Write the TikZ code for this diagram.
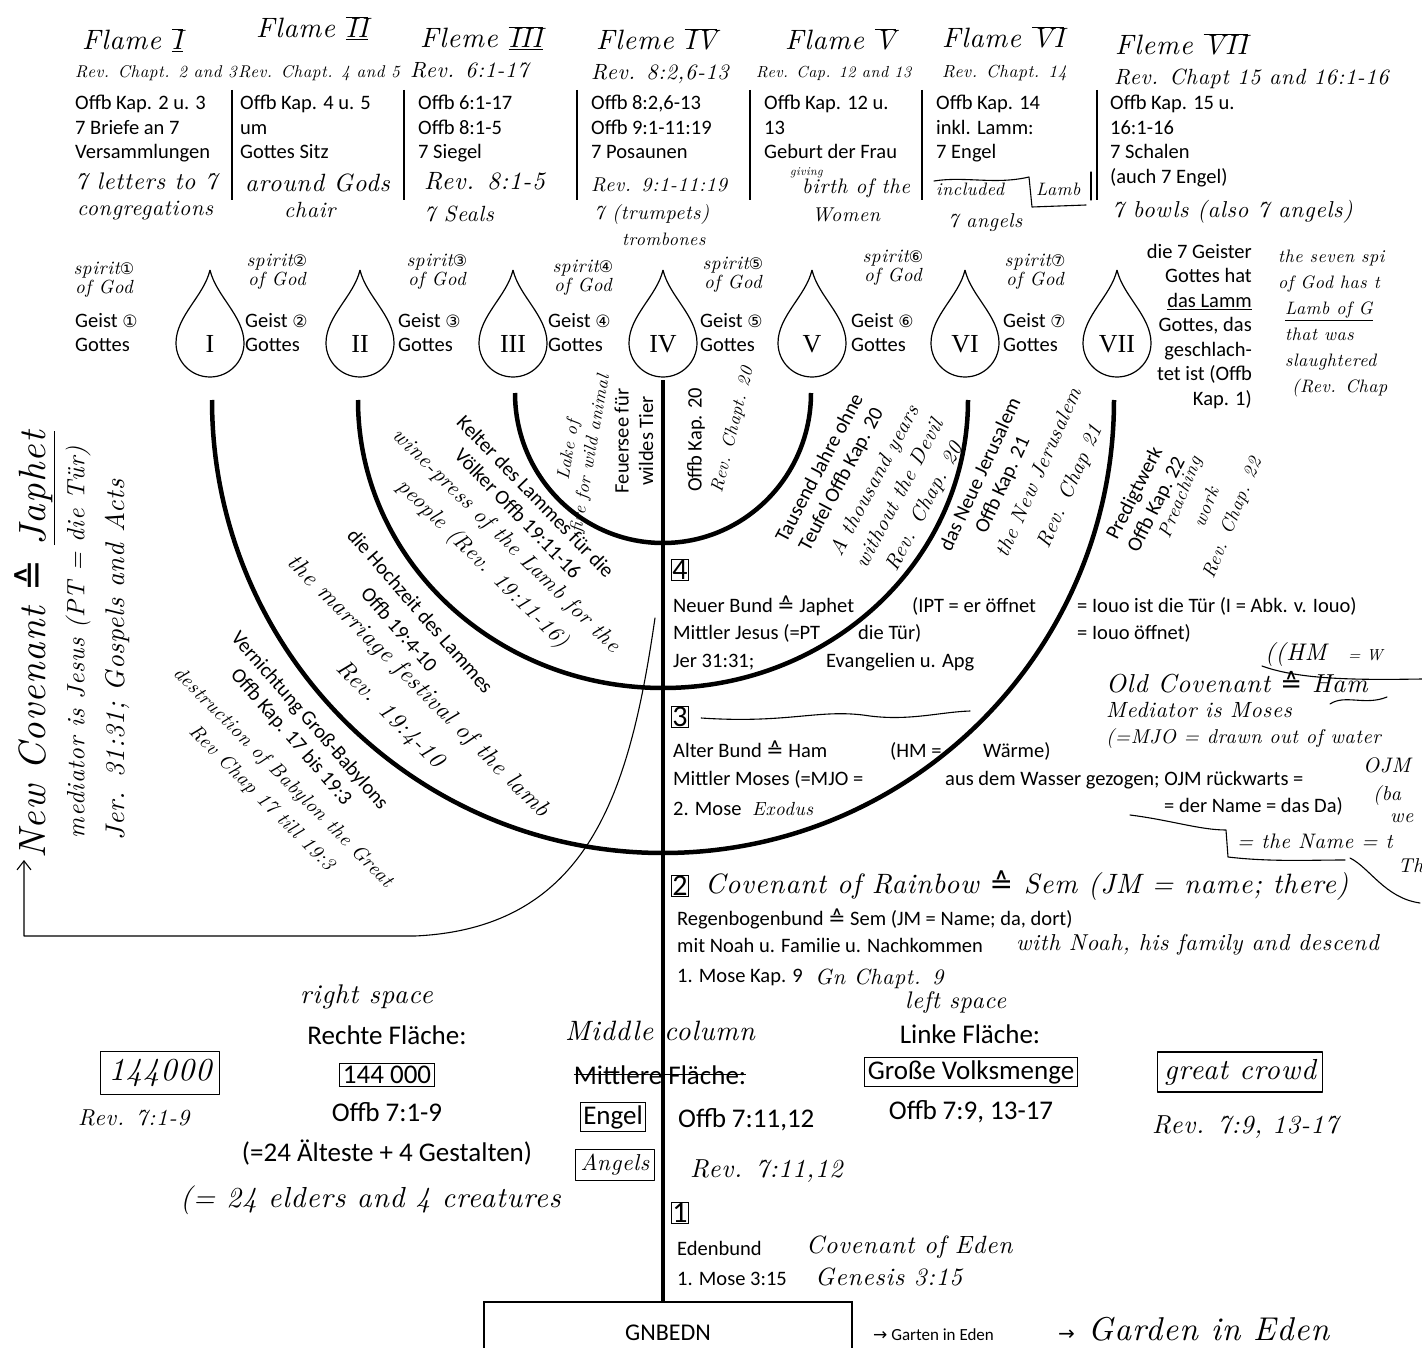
\documentclass[tikz,border=0pt]{standalone}
\usepackage{fontspec}
\usetikzlibrary{arrows.meta}
\newfontfamily\calib{Carlito}
\newfontfamily\dejavu{DejaVu Sans}
\newfontfamily\serifrn{Liberation Serif}
\newfontfamily\handf[LetterSpace=3]{lmroman10-italic.otf}
\newcommand\pf{\calib\fontsize{20.5}{24.5}\selectfont}
\newcommand\pbig{\calib\fontsize{27}{32}\selectfont}
\newcommand\hw[2]{\handf\fontsize{#1}{#2}\selectfont}
\newcommand\cor{{\dejavu ≙}}
\newcommand\rn[1]{$\overline{\mbox{#1}}$}
\newcommand\rnn[1]{$\overline{\underline{\mbox{#1}}}$}

\begin{document}
\begin{tikzpicture}[x=1pt, y=1pt,
  prt/.style={font=\pf, inner sep=0pt, anchor=base west},
  big/.style={font=\pbig, inner sep=0pt, anchor=base},
  hw/.style={font=\hw{18}{23}, inner sep=0pt, anchor=base west},
  numbox/.style={draw, line width=1pt, font=\calib\fontsize{30}{30}\selectfont, inner sep=1pt},
  arm/.style={line width=4.5pt},
  sepline/.style={line width=1.3pt},
  pen/.style={line width=1.1pt, line cap=round, line join=round}]
\useasboundingbox (0,0) rectangle (1422,-1348);
\clip (0,0) rectangle (1422,-1348);

% headers of the seven flames
\node[hw, font=\hw{28}{30}] (f1) at (82,-50) {Flame \rnn{I}};
\node[hw, font=\hw{28}{30}] (f2) at (256,-38) {Flame \rnn{II}};
\node[hw, font=\hw{28}{30}] (f3) at (420,-48) {Fleme \rnn{III}};
\node[hw, font=\hw{28}{30}] (f4) at (596,-50) {Fleme \rn{IV}};
\node[hw, font=\hw{28}{30}] (f5) at (785,-50) {Flame \rn{V}};
\node[hw, font=\hw{28}{30}] (f6) at (942,-48) {Flame \rn{VI}};
\node[hw, font=\hw{28}{30}] (f7) at (1115,-55) {Fleme \rn{VII}};
\node[hw, font=\hw{17}{20}] (r1) at (75,-78) {Rev. Chapt. 2 and 3};
\node[hw, font=\hw{17}{20}] (r2) at (238,-78) {Rev. Chapt. 4 and 5};
\node[hw, font=\hw{22}{20}] (r3) at (410,-78) {Rev. 6:1-17};
\node[hw, font=\hw{22}{20}] (r4) at (591,-80) {Rev. 8:2,6-13};
\node[hw, font=\hw{16}{20}] (r5) at (756,-78) {Rev. Cap. 12 and 13};
\node[hw, font=\hw{17.5}{20}] (r6) at (942,-78) {Rev. Chapt. 14};
\node[hw, font=\hw{22}{20}] (r7) at (1114,-85) {Rev. Chapt 15 and 16:1-16};

% printed columns
\node[prt, anchor=north west, align=left] (c1) at (75,-95) {Offb Kap. 2 u. 3\\7 Briefe an 7\\Versammlungen};
\node[prt, anchor=north west, align=left] (c2) at (240,-95) {Offb Kap. 4 u. 5\\um\\Gottes Sitz};
\node[prt, anchor=north west, align=left] (c3) at (418,-95) {Offb 6:1-17\\Offb 8:1-5\\7 Siegel};
\node[prt, anchor=north west, align=left] (c4) at (591,-95) {Offb 8:2,6-13\\Offb 9:1-11:19\\7 Posaunen};
\node[prt, anchor=north west, align=left] (c5) at (764,-95) {Offb Kap. 12 u.\\13\\Geburt der Frau};
\node[prt, anchor=north west, align=left] (c6) at (936,-95) {Offb Kap. 14\\inkl. Lamm:\\7 Engel};
\node[prt, anchor=north west, align=left] (c7) at (1110,-95) {Offb Kap. 15 u.\\16:1-16\\7 Schalen\\(auch 7 Engel)};
\foreach \x in {232,404,577,750,922,1097}
  \draw[sepline] (\x,-90) -- (\x,-200);

% handwritten notes under the columns
\node[hw, font=\hw{24}{24}] (h1a) at (75,-190) {7 letters to 7};
\node[hw, font=\hw{22}{24}] (h1b) at (77,-216) {congregations};
\node[hw, font=\hw{25}{24}] (h2a) at (245,-192) {around Gods};
\node[hw, font=\hw{22}{24}] (h2b) at (284,-218) {chair};
\node[hw, font=\hw{25}{24}] (h3a) at (424,-190) {Rev. 8:1-5};
\node[hw, font=\hw{22}{24}] (h3b) at (424,-222) {7 Seals};
\node[hw, font=\hw{20}{24}] (h4a) at (591,-192) {Rev. 9:1-11:19};
\node[hw, font=\hw{20}{24}] (h4b) at (594,-220) {7 (trumpets)};
\node[hw, font=\hw{18}{24}] (h4c) at (622,-246) {trombones};
\node[hw, font=\hw{12}{14}] (h5a) at (790,-176) {giving};
\node[hw, font=\hw{21}{24}] (h5b) at (802,-194) {birth of the};
\node[hw, font=\hw{20}{24}] (h5c) at (812,-222) {Women};
\node[hw, font=\hw{18}{24}] (h6a) at (936,-196) {included};
\node[hw, font=\hw{18}{24}] (h6b) at (1036,-196) {Lamb};
\node[hw, font=\hw{20}{24}] (h6c) at (948,-228) {7 angels};
\node[hw, font=\hw{23}{24}] (h7a) at (1112,-218) {7 bowls (also 7 angels)};
\draw[pen] (934,-181) .. controls (965,-176) and (995,-185) .. (1029,-177) -- (1032,-207) -- (1086,-205);
\draw[pen] (1091,-172) -- (1091,-200);

% flames
\foreach \n/\x/\r in {1/210/I,2/360/II,3/513/III,4/663/IV,5/812/V,6/965/VI,7/1117/VII}{
  \draw[line width=1.2pt] (\x,-270) .. controls (\x-6,-296) and (\x-34,-316) .. (\x-34,-343)
    arc[start angle=180, end angle=360, radius=34]
    .. controls (\x+34,-316) and (\x+6,-296) .. (\x,-270);
  \node[font=\serifrn\fontsize{26}{26}\selectfont, inner sep=0pt] (d\n) at (\x,-344) {\r};
}

% spirits of God
\foreach \n/\x/\y/\c in {1/104/-280/①,2/277/-272/②,3/437/-272/③,4/583/-278/④,5/733/-275/⑤,6/893/-268/⑥,7/1035/-272/⑦}
  \node[hw, anchor=center, align=center, font=\hw{19}{19}] (s\n) at (\x,\y) {spirit{\dejavu\fontsize{16}{16}\selectfont\c}\\of God};
\foreach \n/\x/\c in {1/75/①,2/245/②,3/398/③,4/548/④,5/700/⑤,6/851/⑥,7/1003/⑦}
  \node[prt, anchor=north west, align=left] (g\n) at (\x,-313) {Geist {\dejavu\fontsize{17}{17}\selectfont\c}\\Gottes};
\node[prt, anchor=north east, align=right] (lamm) at (1252,-244)
  {die 7 Geister\\Gottes hat\\\underline{das Lamm}\\Gottes, das\\geschlach-\\tet ist (Offb\\Kap. 1)};
\node[hw, anchor=north west, align=left, font=\hw{18}{26}] (lamb) at (1278,-250)
  {the seven spi\\of God has t\\\ \underline{Lamb of G}\\\ that was\\\ slaughtered\\\ \ (Rev. Chap};

% the lampstand
\draw[arm] (515,-393) arc[start angle=180, end angle=360, x radius=148, y radius=150];
\draw[arm] (358,-400) arc[start angle=180, end angle=360, x radius=305, y radius=288];
\draw[arm] (212,-400) arc[start angle=180, end angle=360, x radius=451, y radius=453];
\node[draw, line width=1.2pt, minimum width=368, minimum height=62, font=\calib\fontsize{24}{24}\selectfont] (gbox) at (668,-1333) {GNBEDN};
\coordinate (stemtop) at (663,-380);
\draw[arm] (stemtop) -- (stemtop |- gbox.north);

% labels along the arms
\node[prt, anchor=center, align=center, rotate=90] (a1) at (634,-441) {Feuersee für\\wildes Tier};
\node[hw, anchor=center, align=center, rotate=80, font=\hw{18}{22}] (a1h) at (580,-452) {Lake of\\fire for wild animal};
\node[prt, anchor=center, rotate=90] (a2) at (696,-440) {Offb Kap. 20};
\node[hw, anchor=center, rotate=76] (a2h) at (733,-430) {Rev. Chapt. 20};
\node[prt, anchor=center, align=center, rotate=-46] (a3) at (527,-505) {Kelter des Lammes für die\\Völker Offb 19:11-16};
\node[hw, anchor=center, align=center, rotate=-44.5, font=\hw{22}{33}] (a3h) at (494,-553) {wine-press of the Lamb for the\\people (Rev. 19:11-16)};
\node[prt, anchor=center, align=center, rotate=-49, font=\calib\fontsize{20.5}{28}\selectfont] (a4) at (410,-620) {die Hochzeit des Lammes\\Offb 19:4-10};
\node[hw, anchor=center, align=center, rotate=-45, font=\hw{24}{40}] (a4h) at (404,-701) {the marriage festival of the lamb\\Rev. 19:4-10};
\node[prt, anchor=center, align=center, rotate=-49] (a5) at (300,-729) {Vernichtung Groß-Babylons\\Offb Kap. 17 bis 19:3};
\node[hw, anchor=center, align=center, rotate=-45, font=\hw{20}{30}] (a5h) at (272,-788) {destruction of Babylon the Great\\Rev Chap 17 till 19:3};
\node[prt, anchor=center, align=center, rotate=62] (a6) at (831,-474) {Tausend Jahre ohne\\Teufel Offb Kap. 20};
\node[hw, anchor=center, align=center, rotate=62, font=\hw{21}{28}] (a6h) at (900,-494) {A thousand years\\without the Devil\\Rev. Chap. 20};
\node[prt, anchor=center, align=center, rotate=65] (a7) at (992,-480) {das Neue Jerusalem\\Offb Kap. 21};
\node[hw, anchor=center, align=center, rotate=66, font=\hw{21}{34}] (a7h) at (1055,-480) {the New Jerusalem\\Rev. Chap 21};
\node[prt, anchor=center, align=center, rotate=63] (a8) at (1146,-499) {Predigtwerk\\Offb Kap. 22};
\node[hw, anchor=center, align=center, rotate=68, font=\hw{19}{28}] (a8h) at (1207,-508) {Preaching\\work\\Rev. Chap. 22};

% covenant 4
\node[numbox] (b4) at (680,-570) {4};
\node[prt] (n4a) at (673,-612) {Neuer Bund \cor{} Japhet};
\node[prt] (n4b) at (912,-612) {(IPT = er öffnet};
\node[prt] (n4c) at (1077,-612) {= Iouo ist die Tür (I = Abk. v. Iouo)};
\node[prt] (n4d) at (673,-639) {Mittler Jesus (=PT};
\node[prt] (n4e) at (858,-639) {die Tür)};
\node[prt] (n4f) at (1077,-639) {= Iouo öffnet)};
\node[prt] (n4g) at (673,-667) {Jer 31:31;};
\node[prt] (n4h) at (826,-667) {Evangelien u. Apg};

% covenant 3
\node[numbox] (b3) at (680,-717) {3};
\draw[pen] (b3.east) ++(12,-1) .. controls (790,-724) and (820,-708) .. (870,-716) .. controls (910,-721) and (940,-712) .. (970,-711);
\node[prt] (n3a) at (673,-757) {Alter Bund \cor{} Ham};
\node[prt] (n3b) at (890,-757) {(HM =};
\node[prt] (n3c) at (983,-757) {Wärme)};
\node[prt] (n3d) at (673,-785) {Mittler Moses (=MJO =};
\node[prt] (n3e) at (945,-785) {aus dem Wasser gezogen; OJM rückwarts =};
\node[prt] (n3f) at (673,-815) {2. Mose};
\node[hw, font=\hw{19}{20}] (n3g) at (752,-815) {Exodus};
\node[prt] (n3h) at (1164,-812) {= der Name = das Da)};
\node[hw, font=\hw{24}{26}] (o1) at (1265,-660) {((HM {\fontsize{16}{16}\selectfont\ \ = W}};
\draw[pen] (1262,-666) .. controls (1300,-680) and (1360,-680) .. (1422,-679);
\node[hw, font=\hw{26}{26}] (o2) at (1106,-692) {Old Covenant \cor{} Ham};
\node[hw, font=\hw{22}{24}] (o3) at (1106,-717) {Mediator is Moses};
\draw[pen] (1330,-704) .. controls (1345,-694) and (1365,-706) .. (1387,-697);
\node[hw, font=\hw{20}{24}] (o4) at (1106,-743) {(=MJO = drawn out of water};
\node[hw, font=\hw{21}{24}] (o5) at (1363,-772) {OJM};
\node[hw, font=\hw{20}{24}] (o6) at (1373,-800) {(ba};
\node[hw, font=\hw{20}{24}] (o7) at (1390,-822) {we};
\node[hw, font=\hw{21}{24}] (o8) at (1237,-848) {= the Name = t};
\node[hw, font=\hw{20}{24}] (o9) at (1398,-872) {Th};
\draw[pen] (1130,-815) .. controls (1170,-820) and (1200,-830) .. (1226,-830) -- (1228,-857)
  .. controls (1270,-862) and (1310,-860) .. (1345,-860);
\draw[pen] (1350,-858) .. controls (1370,-868) and (1385,-898) .. (1420,-903);

% covenant 2
\node[numbox] (b2) at (680,-886) {2};
\node[hw, font=\hw{28}{28}] (n2a) at (705,-893) {Covenant of Rainbow \cor{} Sem (JM = name; there)};
\node[prt] (n2b) at (677,-925) {Regenbogenbund \cor{} Sem (JM = Name; da, dort)};
\node[prt] (n2c) at (677,-952) {mit Noah u. Familie u. Nachkommen};
\node[hw, font=\hw{23}{24}] (n2d) at (1016,-950) {with Noah, his family and descend};
\node[prt] (n2e) at (677,-982) {1. Mose Kap. 9};
\node[hw, font=\hw{22}{24}] (n2f) at (815,-984) {Gn Chapt. 9};

% left space, middle column, right space
\node[hw, font=\hw{24}{24}] (ls) at (905,-1008) {left space};
\node[big] (lf) at (970,-1043) {Linke Fläche:};
\node[big, draw, line width=1pt, inner sep=3pt, anchor=center] (gv) at (971,-1072) {Große Volksmenge};
\node[big] (lo) at (971,-1119) {Offb 7:9, 13-17};
\node[hw, draw, pen, inner sep=7pt, anchor=center, font=\hw{29}{30}] (gc) at (1240,-1072) {great crowd};
\node[hw, font=\hw{26}{24}] (gr) at (1152,-1133) {Rev. 7:9, 13-17};
\node[hw, font=\hw{27}{24}] (rs) at (300,-1003) {right space};
\node[big] (rf) at (387,-1044) {Rechte Fläche:};
\node[big, draw, line width=1pt, inner sep=3pt, anchor=center] (ht) at (387,-1075) {144 000};
\node[big] (ro) at (387,-1121) {Offb 7:1-9};
\node[big] (ra) at (387,-1161) {(=24 Älteste + 4 Gestalten)};
\node[hw, font=\hw{29}{30}] (re) at (180,-1207) {(= 24 elders and 4 creatures};
\node[hw, draw, pen, inner sep=8pt, anchor=center, font=\hw{32}{34}] (hh) at (160,-1073) {144000};
\node[hw, font=\hw{23}{24}] (hr) at (78,-1125) {Rev. 7:1-9};
\node[hw, font=\hw{28}{24}] (mc) at (565,-1040) {Middle column};
\node[big] (mf) at (660,-1084) {Mittlere Fläche:};
\draw[line width=1.3pt] (mf.west) -- (mf.east);
\node[big, draw, line width=1pt, inner sep=3pt, anchor=center] (en) at (613,-1117) {Engel};
\node[big, anchor=base west] (eo) at (678,-1127) {Offb 7:11,12};
\node[hw, draw, pen, inner sep=5pt, anchor=center, font=\hw{23}{24}] (an) at (615,-1165) {Angels};
\node[hw, font=\hw{26}{24}] (ar) at (690,-1177) {Rev. 7:11,12};

% covenant 1
\node[numbox] (b1) at (680,-1213) {1};
\node[prt] (n1a) at (677,-1255) {Edenbund};
\node[prt] (n1b) at (677,-1285) {1. Mose 3:15};
\node[hw, font=\hw{25}{24}] (n1c) at (806,-1253) {Covenant of Eden};
\node[hw, font=\hw{25}{24}] (n1d) at (815,-1285) {Genesis 3:15};
\node[prt, font=\calib\fontsize{17}{17}\selectfont] (ge) at (873,-1340) {{\dejavu →} Garten in Eden};
\node[hw, font=\hw{33}{30}] (gd) at (1058,-1340) {{\dejavu\fontsize{20}{20}\selectfont →}\ Garden in Eden};

% new covenant note on the left
\node[hw, anchor=center, rotate=90, font=\hw{38}{34}] (nc1) at (35,-645) {New Covenant \cor{} \underline{Japhet}};
\node[hw, anchor=center, rotate=90, font=\hw{25}{26}] (nc2) at (78,-642) {mediator is Jesus (PT = die Tür)};
\node[hw, anchor=center, rotate=90, font=\hw{27}{26}] (nc3) at (117,-660) {Jer. 31:31; Gospels and Acts};
\coordinate (ncfrom) at (655,-618);
\coordinate (nccorner) at (24,-936);
\coordinate (nctip) at (24,-860);
\draw[pen, -{Straight Barb[length=9pt, width=14pt]}] (ncfrom) .. controls (630,-790) and (590,-928) .. (415,-936) -- (nccorner) -- (nctip);
\end{tikzpicture}
\end{document}
